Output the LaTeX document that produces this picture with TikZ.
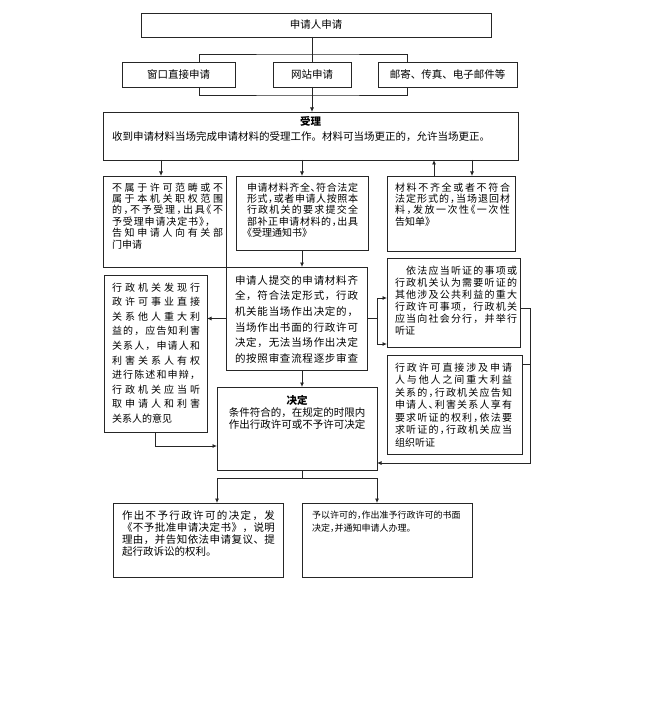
\documentclass[tikz,border=0pt]{standalone}
\usepackage{fontspec}
\usetikzlibrary{arrows.meta}
\newfontfamily\cjk{Noto Sans CJK SC}
\newfontfamily\cjkh[RawFeature=+halt]{Noto Sans CJK SC}
\ExplSyntaxOn
\NewDocumentCommand\jlw{mm}{\makebox[#1][s]{\tl_map_inline:nn{#2}{##1\hfil}\unskip}}
\ExplSyntaxOff
\newcommand\jl[1]{\jlw{\linewidth}{#1}}
\lineskiplimit=-100pt
\begin{document}
\begin{tikzpicture}[x=1pt,y=-1pt,
  bx/.style={draw=black!85, line width=0.8pt, inner sep=0pt, outer sep=0pt, anchor=north west,
             font=\cjk\fontsize{10.5}{12}\selectfont},
  txt/.style={inner sep=0pt, outer sep=0pt, anchor=base west},
  ln/.style={draw=black!85, line width=0.8pt},
  arr/.style={-{Latex[length=4.5pt,width=4pt]}}]
\useasboundingbox (0,0) rectangle (657,714);
\fill[white] (0,0) rectangle (657,714);

% boxes
\node[bx, minimum width=350pt, minimum height=24pt] (top) at (141,13) {申请人申请};
\node[bx, minimum width=113pt, minimum height=25pt] (w1) at (122,62) {窗口直接申请};
\node[bx, minimum width=78pt, minimum height=25pt] (w2) at (273,62) {网站申请};
\node[bx, minimum width=139pt, minimum height=25pt] (w3) at (378,62) {邮寄、传真、电子邮件等};
\node[bx, minimum width=415pt, minimum height=48pt] (shouli) at (103,112) {};
\node[bx, minimum width=123pt, minimum height=91pt] (A) at (103,176) {};
\node[bx, minimum width=132pt, minimum height=74pt] (B) at (236,176) {};
\node[bx, minimum width=128pt, minimum height=75pt] (C) at (387,176) {};
\node[bx, minimum width=103pt, minimum height=157pt] (D) at (104,275) {};
\node[bx, minimum width=141pt, minimum height=103pt] (E) at (226,267) {};
\node[bx, minimum width=133pt, minimum height=89pt] (F) at (387,258) {};
\node[bx, minimum width=135pt, minimum height=99pt] (G) at (387,355) {};
\node[bx, minimum width=160pt, minimum height=83pt] (H) at (217,387) {};
\node[bx, minimum width=170pt, minimum height=74pt] (I) at (113,503) {};
\node[bx, minimum width=170pt, minimum height=74pt] (J) at (302,503) {};

% texts
\node[txt, anchor=base, font=\cjk\bfseries\fontsize{10.5}{12}\selectfont] (tS1) at (310.5,126) {受理};
\node[txt, font=\cjk\fontsize{10.5}{12}\selectfont] (tS2) at (112,141)
  {收到申请材料当场完成申请材料的受理工作。材料可当场更正的，允许当场更正。};
\node[txt] (tA) at (112,191) {\parbox[t]{111pt}{\cjkh\fontsize{10}{11.4}\selectfont
  \jl{不属于许可范畴或不}\\\jl{属于本机关职权范围}\\\jl{的，不予受理，出具《不}\\
  \jlw{98pt}{予受理申请决定书》，}\\\jl{告知申请人向有关部}\\门申请}};
\node[txt] (tB) at (247,191) {\parbox[t]{111pt}{\cjkh\fontsize{10}{11.4}\selectfont
  \jl{申请材料齐全、符合法定}\\\jl{形式，或者申请人按照本}\\\jl{行政机关的要求提交全}\\
  \jl{部补正申请材料的，出具}\\《受理通知书》}};
\node[txt] (tC) at (395,191) {\parbox[t]{115pt}{\cjkh\fontsize{10}{11.4}\selectfont
  \jl{材料不齐全或者不符合}\\\jl{法定形式的，当场退回材}\\\jl{料，发放一次性《一次性}\\告知单》}};
\node[txt] (tD) at (112,291) {\parbox[t]{88pt}{\cjk\fontsize{10}{14.6}\selectfont
  \jl{行政机关发现行}\\\jl{政许可事业直接}\\\jl{关系他人重大利}\\\jl{益的，应告知利害}\\
  \jl{关系人，申请人和}\\\jl{利害关系人有权}\\\jl{进行陈述和申辩，}\\\jl{行政机关应当听}\\
  \jl{取申请人和利害}\\关系人的意见}};
\node[txt] (tE) at (235,284) {\parbox[t]{123pt}{\cjk\fontsize{10.5}{15.7}\selectfont
  \jl{申请人提交的申请材料齐}\\\jl{全，符合法定形式，行政}\\\jl{机关能当场作出决定的，}\\
  \jl{当场作出书面的行政许可}\\\jl{决定，无法当场作出决定}\\\jl{的按照审查流程逐步审查}}};
\node[txt] (tF) at (395,274) {\parbox[t]{122pt}{\cjk\fontsize{10}{12}\selectfont
  \jl{　依法应当听证的事项或}\\\jl{行政机关认为需要听证的}\\\jl{其他涉及公共利益的重大}\\
  \jl{行政许可事项，行政机关}\\\jl{应当向社会分行，并举行}\\听证}};
\node[txt] (tG) at (395,371) {\parbox[t]{117pt}{\cjkh\fontsize{10}{12.5}\selectfont
  \jl{行政许可直接涉及申请}\\\jl{人与他人之间重大利益}\\\jl{关系的，行政机关应告知}\\
  \jl{申请人、利害关系人享有}\\\jl{要求听证的权利，依法要}\\\jl{求听证的，行政机关应当}\\组织听证}};
\node[txt, anchor=base] (tH) at (297,404) {\parbox[t]{158pt}{\centering\cjk\fontsize{10.5}{12}\selectfont
  {\bfseries 决定}\\条件符合的，在规定的时限内\\作出行政许可或不予许可决定}};
\node[txt] (tI) at (122,519) {\parbox[t]{153pt}{\cjk\fontsize{10.5}{12.2}\selectfont
  \jl{作出不予行政许可的决定，发}\\\jl{《不予批准申请决定书》，说明}\\\jl{理由，并告知依法申请复议、提}\\
  起行政诉讼的权利。}};
\node[txt] (tJ) at (312,518.5) {\parbox[t]{155pt}{\cjkh\fontsize{9}{12.7}\selectfont
  予以许可的，作出准予行政许可的书面\\决定，并通知申请人办理。}};

% coordinates
\coordinate (b1) at ([xshift=20.5pt]w1.north);
\coordinate (b3) at ([xshift=-40.5pt]w3.north);
\coordinate (bt) at ([yshift=8pt]w2.north);
\coordinate (bb) at ([yshift=-8pt]w2.south);
\coordinate (cx) at (B.south);
\coordinate (ax) at ([xshift=-3.5pt]A.north);
\coordinate (cu) at ([xshift=-17pt]C.north);
\coordinate (cd) at ([xshift=21pt]C.north);
\coordinate (ej) at ([xshift=10pt]E.east);
\coordinate (f1) at ([yshift=4.5pt]F.west);
\coordinate (f2) at ([yshift=-41.5pt]F.west);
\coordinate (fo) at ([yshift=-5.5pt]F.east);
\coordinate (go) at ([yshift=40.5pt]G.east);
\coordinate (rx) at (530,0);
\coordinate (hi) at ([yshift=-34.5pt]H.east);
\coordinate (hl) at ([yshift=-17.5pt]H.west);
\coordinate (sp) at ([yshift=-8pt]H.south -| cx);

% connectors
\draw[ln] (top.south -| w2.north) -- (w2.north);
\draw[ln] (b1) |- (bt) -| (b3);
\draw[ln] (b1 |- w1.south) |- (bb) -| (b3 |- w3.south);
\draw[ln,arr] (w2.south) -- (w2.south |- shouli.north);
\draw[ln,arr] (ax |- shouli.south) -- (ax);
\draw[ln,arr] (cx |- shouli.south) -- (B.north);
\draw[ln,arr] (cu) -- (cu |- shouli.south);
\draw[ln,arr] (cd |- shouli.south) -- (cd);
\draw[ln,arr] (B.south) -- (cx |- E.north);
\draw[ln,arr] (E.west) -- (E.west -| D.east);
\draw[ln,arr] (E.east) -- (ej) |- (f1);
\draw[ln,arr] (ej) |- (f2);
\draw[ln] (fo) -- (fo -| rx);
\draw[ln] (go) -- (go -| rx);
\draw[ln,arr] (fo -| rx) |- (hi);
\draw[ln,arr] (D.south) |- (hl);
\draw[ln,arr] (cx |- E.south) -- (cx |- H.north);
\draw[ln] (cx |- H.south) -- (sp);
\draw[ln,arr] (sp) -| (I.north -| H.west);
\draw[ln,arr] (sp) -| (J.north -| H.east);
\end{tikzpicture}
\end{document}
